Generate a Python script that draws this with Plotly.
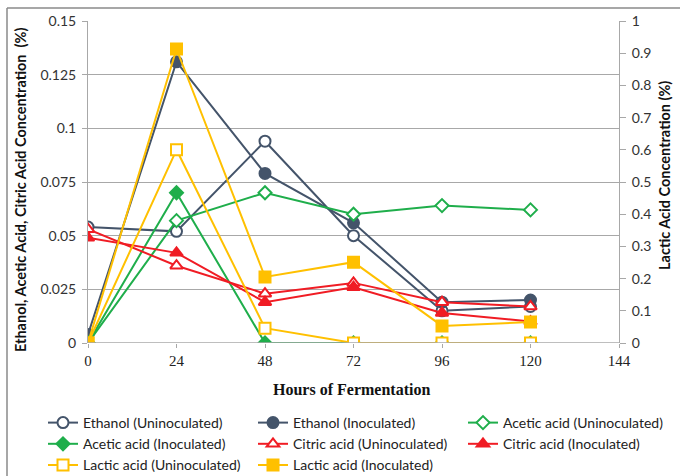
import plotly.graph_objects as go

hours = [0, 24, 48, 72, 96, 120]

ethanol_uninoc = [0.054, 0.052, 0.094, 0.050, 0.015, 0.017]
ethanol_inoc = [0.004, 0.131, 0.079, 0.056, 0.019, 0.020]
acetic_uninoc = [0.0, 0.057, 0.070, 0.060, 0.064, 0.062]
acetic_inoc = [0.0, 0.070, 0.0, 0.0, 0.0, 0.0]
citric_uninoc = [0.053, 0.036, 0.023, 0.028, 0.019, 0.017]
citric_inoc = [0.049, 0.042, 0.019, 0.026, 0.014, 0.010]
lactic_uninoc = [0.0, 0.60, 0.046, 0.0, 0.0, 0.0]
lactic_inoc = [0.0, 0.913, 0.205, 0.251, 0.053, 0.065]

left_ticks = [0, 0.025, 0.05, 0.075, 0.1, 0.125, 0.15]
left_labels = ["0", "0.025", "0.05", "0.075", "0.1", "0.125", "0.15"]
right_ticks = [0, 0.1, 0.2, 0.3, 0.4, 0.5, 0.6, 0.7, 0.8, 0.9, 1.0]
right_labels = ["0", "0.1", "0.2", "0.3", "0.4", "0.5", "0.6", "0.7", "0.8", "0.9", "1"]
x_ticks = [0, 24, 48, 72, 96, 120, 144]

SLATE = "#44546a"
GREEN = "#1fae4b"
RED = "#f01c24"
GOLD = "#ffc000"

W, H = 680, 476
ML, MR, MT, MB = 88, 61, 21, 133
PW, PH = W - ML - MR, H - MT - MB


def px_x(x):
    return (x - ML) / PW


def px_y(y):
    return (H - MB - y) / PH


# name, values, colour, marker, hollow?, y axis, legend column
series = [
    ("Ethanol (Uninoculated)", ethanol_uninoc, SLATE, "circle", True, "y", "legend"),
    ("Ethanol (Inoculated)", ethanol_inoc, SLATE, "circle", False, "y", "legend2"),
    ("Acetic acid (Uninoculated)", acetic_uninoc, GREEN, "diamond", True, "y", "legend3"),
    ("Acetic acid (Inoculated)", acetic_inoc, GREEN, "diamond", False, "y", "legend"),
    ("Citric acid (Uninoculated)", citric_uninoc, RED, "triangle-up", True, "y", "legend2"),
    ("Citric acid (Inoculated)", citric_inoc, RED, "triangle-up", False, "y", "legend3"),
    ("Lactic acid (Uninoculated)", lactic_uninoc, GOLD, "square", True, "y2", "legend"),
    ("Lactic acid (Inoculated)", lactic_inoc, GOLD, "square", False, "y2", "legend2"),
]

fig = go.Figure()
for name, vals, col, sym, hollow, ax, leg in series:
    fig.add_trace(go.Scatter(
        x=hours, y=vals, name=name, yaxis=ax, legend=leg, mode="lines+markers",
        line=dict(color=col, width=2),
        marker=dict(symbol=sym, size=11 if sym != "diamond" else 10,
                    color="white" if hollow else col,
                    line=dict(color=col, width=2)),
    ))

legend_font = dict(family="Lato, sans-serif", size=14, color="#222222")


def legend_at(x_px):
    return dict(orientation="v", x=px_x(x_px), xanchor="left", y=px_y(407),
                yanchor="top", font=legend_font, tracegroupgap=0, itemwidth=30,
                bgcolor="rgba(0,0,0,0)")


grid = "#a8a8a8"
fig.update_layout(
    width=W, height=H,
    margin=dict(l=ML, r=MR, t=MT, b=MB, autoexpand=False),
    paper_bgcolor="white", plot_bgcolor="white",
    font=dict(family="Lato, sans-serif", color="#333333"),
    showlegend=True,
    legend=legend_at(43),
    legend2=legend_at(253),
    legend3=legend_at(463),
    xaxis=dict(range=[0, 144], tickvals=x_ticks, showgrid=False, zeroline=False,
               showline=False, ticks="outside", ticklen=4, tickcolor=grid,
               tickfont=dict(family="Liberation Serif, serif", size=15, color="#222222")),
    yaxis=dict(range=[0, 0.15], tickvals=left_ticks, ticktext=left_labels,
               showgrid=True, gridcolor=grid, gridwidth=1, zeroline=False,
               showline=True, linecolor=grid, ticks="outside", ticklen=5,
               tickcolor=grid, ticklabelstandoff=3,
               tickfont=dict(family="Lato, sans-serif", size=14, color="#333333")),
    yaxis2=dict(range=[0, 1], tickvals=right_ticks, ticktext=right_labels,
                overlaying="y", side="right", showgrid=False, zeroline=False,
                showline=True, linecolor=grid, ticks="outside", ticklen=6,
                tickcolor=grid, ticklabelstandoff=3,
                tickfont=dict(family="Lato, sans-serif", size=14, color="#333333")),
)

# x axis line at zero
fig.add_shape(type="line", xref="paper", yref="y", x0=0, x1=1, y0=0, y1=0,
              line=dict(color=grid, width=1.5))

# outer frame (top and left edges)
fig.add_shape(type="line", xref="paper", yref="paper",
              x0=px_x(7), x1=px_x(W), y0=px_y(8), y1=px_y(8),
              line=dict(color="#8a8a8a", width=1.5))
fig.add_shape(type="line", xref="paper", yref="paper",
              x0=px_x(7), x1=px_x(7), y0=px_y(8), y1=px_y(H),
              line=dict(color="#8a8a8a", width=1.5))

fig.add_annotation(text="<b>Ethanol, Acetic Acid, Citric Acid Concentration  (%)</b>",
                   xref="paper", yref="paper", x=px_x(20), y=px_y(190),
                   xanchor="center", yanchor="middle",
                   textangle=-90, showarrow=False,
                   font=dict(family="Lato, sans-serif", size=14.5, color="#111111"))
fig.add_annotation(text="<b>Lactic Acid Concentration (%)</b>",
                   xref="paper", yref="paper", x=px_x(664), y=px_y(176),
                   xanchor="center", yanchor="middle",
                   textangle=-90, showarrow=False,
                   font=dict(family="Lato, sans-serif", size=14.5, color="#111111"))
fig.add_annotation(text="<b>Hours of Fermentation</b>",
                   xref="paper", yref="paper", x=px_x(351), y=px_y(390),
                   xanchor="center", yanchor="middle", showarrow=False,
                   font=dict(family="Liberation Serif, serif", size=16, color="#111111"))

fig.write_html("out.html")
